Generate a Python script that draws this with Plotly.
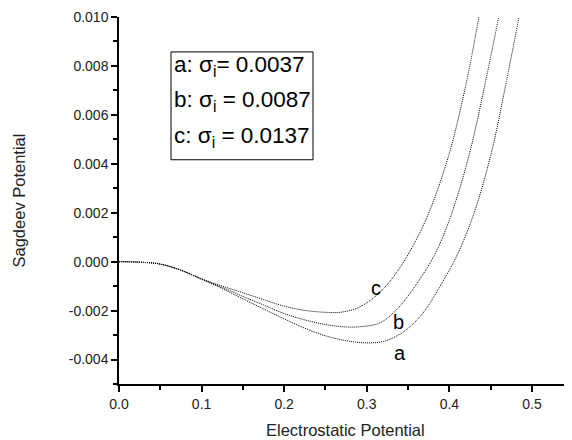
import plotly.graph_objects as go

# Electrostatic potential (x) and Sagdeev potential (y)
xa = [0.0, 0.025, 0.05, 0.075, 0.1, 0.125, 0.15, 0.175, 0.2, 0.225, 0.25, 0.275, 0.3, 0.32,
      0.335, 0.348, 0.368, 0.388, 0.41, 0.43, 0.45, 0.468, 0.4843]
ya = [0.0, -0.00002, -0.0001, -0.00035, -0.00072, -0.0011, -0.00152, -0.00193, -0.00234,
      -0.00272, -0.00303, -0.00323, -0.00332, -0.00326, -0.00306, -0.00278, -0.0021, -0.00105,
      0.00031, 0.002, 0.00433, 0.00718, 0.01]

xb = [0.0, 0.025, 0.05, 0.075, 0.1, 0.125, 0.15, 0.175, 0.2, 0.225, 0.25, 0.275, 0.295,
      0.316, 0.335, 0.35, 0.38, 0.4, 0.4237, 0.4427, 0.4597]
yb = [0.0, -0.00002, -0.0001, -0.00035, -0.00071, -0.00105, -0.00142, -0.00177, -0.00212,
      -0.00238, -0.00257, -0.00267, -0.00265, -0.0025, -0.002, -0.0014, 0.00015, 0.0017,
      0.00433, 0.00718, 0.01]

xc = [0.0, 0.025, 0.05, 0.075, 0.1, 0.125, 0.15, 0.175, 0.2, 0.225, 0.25, 0.27, 0.291,
      0.316, 0.336, 0.356, 0.375, 0.3991, 0.4197, 0.4358]
yc = [0.0, -0.00002, -0.0001, -0.00035, -0.0007, -0.001, -0.00127, -0.00155, -0.00182,
      -0.00199, -0.00207, -0.00206, -0.00186, -0.00125, -0.00045, 0.00065, 0.00198, 0.00433,
      0.00718, 0.01]

curve_names = ["a", "b", "c"]
sigma_labels = ["a: σ<sub>i</sub>= 0.0037", "b: σ<sub>i</sub> = 0.0087", "c: σ<sub>i</sub> = 0.0137"]

x_ticks = [0.0, 0.1, 0.2, 0.3, 0.4, 0.5]
x_ticktext = ["0.0", "0.1", "0.2", "0.3", "0.4", "0.5"]
y_ticks = [-0.004, -0.002, 0.0, 0.002, 0.004, 0.006, 0.008, 0.010]
y_ticktext = ["-0.004", "-0.002", "0.000", "0.002", "0.004", "0.006", "0.008", "0.010"]

FONT = "Liberation Sans, Arial, sans-serif"

fig = go.Figure()
for xs, ys, nm in zip([xa, xb, xc], [ya, yb, yc], curve_names):
    fig.add_trace(go.Scatter(x=xs, y=ys, mode="lines", name=nm,
                             line=dict(color="black", width=1, dash="1px,1px", shape="spline",
                                       smoothing=1.0),
                             showlegend=False, hoverinfo="skip"))

axis_common = dict(showline=True, linecolor="black", linewidth=1.5, mirror=False,
                   ticks="outside", ticklen=6, tickwidth=1.5, tickcolor="black",
                   showgrid=False, zeroline=False, automargin=False,
                   tickfont=dict(family=FONT, size=14, color="#222"))

fig.update_xaxes(range=[0, 0.5485], tickvals=x_ticks, ticktext=x_ticktext,
                 minor=dict(ticks="outside", ticklen=4, tickwidth=1.5, tickcolor="black",
                            dtick=0.05, tick0=0),
                 **axis_common)
fig.update_yaxes(range=[-0.005, 0.010], tickvals=y_ticks, ticktext=y_ticktext,
                 minor=dict(ticks="outside", ticklen=4, tickwidth=1.5, tickcolor="black",
                            dtick=0.001, tick0=0),
                 **axis_common)

# axis titles
fig.add_annotation(xref="paper", yref="paper", x=0.5, y=0, yanchor="top", yshift=-35,
                   text="Electrostatic Potential", showarrow=False,
                   font=dict(family=FONT, size=16.5, color="#222"))
fig.add_annotation(xref="paper", yref="paper", x=0, y=0.5, xanchor="center", xshift=-101,
                   textangle=-90, text="Sagdeev Potential", showarrow=False,
                   font=dict(family=FONT, size=16.5, color="#222"))

# legend box
fig.add_shape(type="rect", xref="paper", yref="paper", x0=0.1148, x1=0.4283, y0=0.611, y1=0.9048,
              line=dict(color="black", width=1), fillcolor="white", layer="above")
for lbl, py in zip(sigma_labels, [0.866, 0.770, 0.672]):
    fig.add_annotation(xref="paper", yref="paper", x=0.117, y=py, text=lbl, showarrow=False,
                       xanchor="left", yanchor="middle",
                       font=dict(family=FONT, size=22.5, color="black"))

# curve labels
for nm, lx, ly in [("c", 0.3112, -0.00109), ("b", 0.3383, -0.00245), ("a", 0.3402, -0.00373)]:
    fig.add_annotation(x=lx, y=ly, text=nm, showarrow=False, xanchor="center", yanchor="middle",
                       font=dict(family=FONT, size=20, color="black"))

fig.update_layout(width=564, height=432, margin=dict(l=111, r=0, t=9, b=55.5),
                  paper_bgcolor="white", plot_bgcolor="white",
                  font=dict(family=FONT, color="black"))

fig.write_html("out.html")
